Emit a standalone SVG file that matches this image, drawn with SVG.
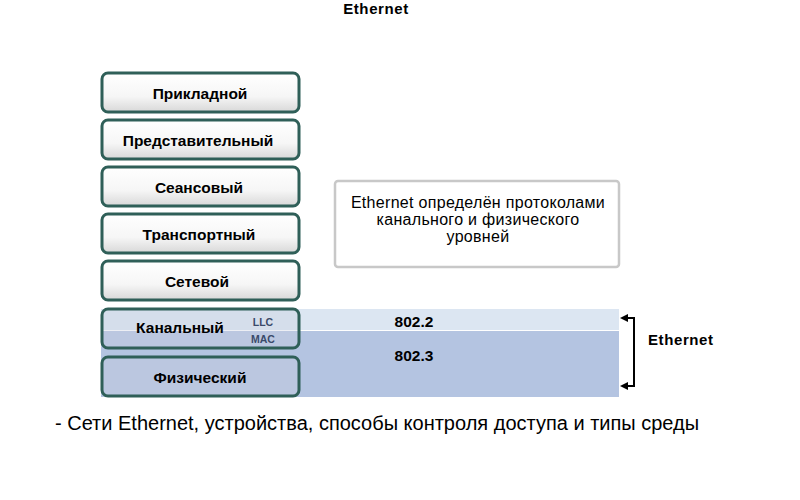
<svg xmlns="http://www.w3.org/2000/svg" width="800" height="500" viewBox="0 0 800 500">
<defs>
<linearGradient id="g" x1="0" y1="0" x2="0" y2="1">
<stop offset="0" stop-color="#ffffff"/>
<stop offset="0.6" stop-color="#f6f6f6"/>
<stop offset="1" stop-color="#d8d8d8"/>
</linearGradient>
<style>
.layer{fill:url(#g);stroke:#2f5f58;stroke-width:3}
.layerT{fill:#c8cfe0;fill-opacity:0.35;stroke:#2f5f58;stroke-width:3}
.t{font-family:"Liberation Sans",Arial,sans-serif;font-size:15.5px;font-weight:bold;fill:#000;text-anchor:middle}
.s{font-family:"Liberation Sans",Arial,sans-serif;font-size:10.5px;font-weight:bold;fill:#3a4a6a;text-anchor:middle}
.n{font-family:"Liberation Sans",Arial,sans-serif;font-size:16px;fill:#000;text-anchor:middle;letter-spacing:0.3px}
.h{font-family:"Liberation Sans",Arial,sans-serif;font-size:15px;font-weight:bold;fill:#000;letter-spacing:0.6px}
</style>
</defs>
<rect width="800" height="500" fill="#fff"/>
<text class="h" x="376" y="14" text-anchor="middle">Ethernet</text>

<g id="bands">
<rect x="101" y="309" width="518" height="21" fill="#dce6f2"/>
<rect x="101" y="331" width="518" height="66" fill="#b4c4e1"/>
<text class="t" x="414" y="327">802.2</text>
<text class="t" x="414" y="361">802.3</text>
</g>

<g id="app"><rect class="layer" x="102" y="73" width="197" height="39" rx="6"/><text class="t" x="200" y="99">Прикладной</text></g>
<g id="pres"><rect class="layer" x="102" y="120" width="197" height="39" rx="6"/><text class="t" x="198" y="146">Представительный</text></g>
<g id="sess"><rect class="layer" x="102" y="167" width="197" height="39" rx="6"/><text class="t" x="199" y="193">Сеансовый</text></g>
<g id="trans"><rect class="layer" x="102" y="214" width="197" height="39" rx="6"/><text class="t" x="199" y="240">Транспортный</text></g>
<g id="net"><rect class="layer" x="102" y="261" width="197" height="39" rx="6"/><text class="t" x="197" y="287">Сетевой</text></g>
<g id="link"><rect class="layerT" x="102" y="309" width="197" height="39" rx="6"/><text class="t" x="180" y="333">Канальный</text><text class="s" x="263" y="326">LLC</text><text class="s" x="263" y="343">MAC</text></g>
<g id="phys"><rect class="layerT" x="102" y="357" width="197" height="39" rx="6"/><text class="t" x="200" y="383">Физический</text></g>

<g id="note"><rect x="335" y="181" width="284" height="86" rx="3" fill="#fff" stroke="#c8c8c8" stroke-width="2.5"/>
<text class="n" x="478" y="208">Ethernet определён протоколами</text>
<text class="n" x="478" y="225">канального и физического</text>
<text class="n" x="478" y="242">уровней</text></g>

<g id="connectors">
<path d="M626,318 H634 V386 H626" fill="none" stroke="#000" stroke-width="2"/>
<path d="M620,318 L628,314 L628,322 Z" fill="#000"/>
<path d="M620,386 L628,382 L628,390 Z" fill="#000"/>
</g>
<text class="h" x="648" y="345" font-size="15.5px" letter-spacing="0.3px">Ethernet</text>

<text x="55" y="430" font-family="'Liberation Sans',Arial,sans-serif" font-size="20" fill="#000">- Сети Ethernet, устройства, способы контроля доступа и типы среды</text>
</svg>
